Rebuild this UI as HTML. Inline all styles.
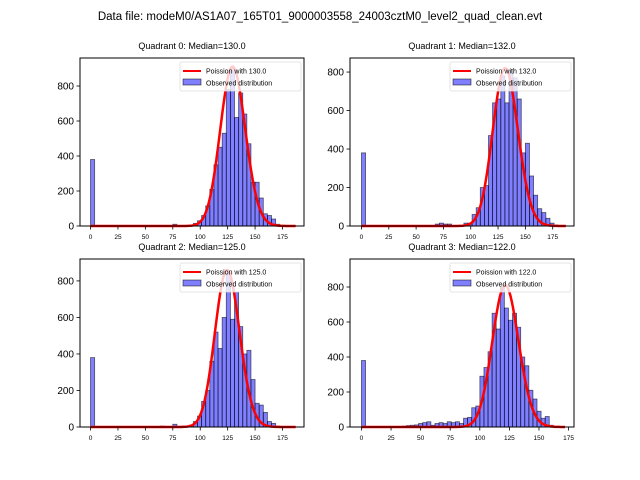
<!DOCTYPE html>
<html><head><meta charset="utf-8"><style>
body{margin:0;background:#fff}
svg{display:block;font-family:"Liberation Sans","DejaVu Sans",sans-serif}
</style></head><body>
<svg id="fig" width="640" height="480" viewBox="0 0 640 480" xmlns="http://www.w3.org/2000/svg">
<rect width="640" height="480" fill="#fff"/>
<text x="320" y="20" font-size="11.5" text-anchor="middle">Data file: modeM0/AS1A07_165T01_9000003558_24003cztM0_level2_quad_clean.evt</text>
</svg>
<script>
const medians=[130,132,125,122];
const binWidths=[3.75,3.75,3.75,3.45];
const curvePeaks=[910,820,860,810];
const curveMax=[187,187,187,172];
const yTicks=[0,200,400,600,800];
const xTicks=[[0,25,50,75,100,125,150,175],[0,25,50,75,100,125,150,175],[0,25,50,75,100,125,150,175],[0,25,50,75,100,125,150,175]];
const counts0=[380,0,0,0,0,0,0,0,0,0,0,0,0,0,0,0,0,0,0,0,10,0,0,0,5,15,30,60,115,210,350,450,530,780,900,620,760,640,470,250,250,160,70,60,40,10,3];
const counts1=[380,0,0,0,0,0,0,0,0,0,0,0,0,0,0,0,0,0,10,15,10,10,0,0,0,15,15,60,95,200,210,470,640,660,780,640,810,770,660,380,430,260,160,90,70,40,15,5];
const counts2=[380,0,0,0,0,0,0,0,0,0,0,0,0,0,0,0,0,5,0,0,15,0,5,0,10,30,60,140,200,360,520,430,600,840,590,740,550,400,420,260,130,120,80,30,20,5];
const counts3=[380,0,0,0,0,0,0,0,0,3,5,8,10,12,20,25,30,10,20,25,20,30,25,30,20,50,55,110,120,290,340,430,650,560,800,680,610,650,570,400,350,210,160,90,50,60,10,3];
const allCounts=[counts0,counts1,counts2,counts3];
const axes=[
 {x0:80,x1:304,y0:58,y1:226,xmin:-9.6,xmax:194.6,ymax:960},
 {x0:350,x1:574,y0:58,y1:226,xmin:-10.5,xmax:194.5,ymax:873},
 {x0:80,x1:304,y0:259,y1:427,xmin:-9.6,xmax:194.6,ymax:920},
 {x0:350,x1:574,y0:259,y1:427,xmin:-9.7,xmax:179.6,ymax:960}
];
const NS="http://www.w3.org/2000/svg";
const svg=document.getElementById('fig');
function mk(tag,attrs,parent){const e=document.createElementNS(NS,tag);for(const k in attrs)e.setAttribute(k,attrs[k]);(parent||svg).appendChild(e);return e;}
function lgam(n){let s=0;for(let k=2;k<=n;k++)s+=Math.log(k);return s;}
function logpmf(k,m){return k*Math.log(m)-m-lgam(k);}
axes.forEach((a,q)=>{
 const g=mk('g',{});
 
 
 const X=v=>a.x0+(v-a.xmin)/(a.xmax-a.xmin)*(a.x1-a.x0);
 const Y=v=>a.y1-v/a.ymax*(a.y1-a.y0);
 const bw=binWidths[q];
 allCounts[q].forEach((c,i)=>{
  if(c<=0)return;
  const r=mk('rect',{x:X(i*bw),y:Y(c),width:X((i+1)*bw)-X(i*bw),height:a.y1-Y(c),fill:'rgba(0,0,255,0.5)',stroke:'rgba(0,0,0,0.6)','stroke-width':0.8},g);
  
  
 });
 const m=medians[q];const lm=logpmf(Math.floor(m),m);
 let d='';
 for(let k=0;k<=curveMax[q];k++){const v=curvePeaks[q]*Math.exp(logpmf(k,m)-lm);d+=(k?'L':'M')+X(k).toFixed(2)+','+Y(v).toFixed(2);}
 const p=mk('path',{d:d,fill:'none',stroke:'#ff0000','stroke-width':2.5},g);
 
 
 const fr=mk('rect',{x:a.x0,y:a.y0,width:a.x1-a.x0,height:a.y1-a.y0,fill:'none',stroke:'#000','stroke-width':1},g);
 
 
 yTicks.forEach(t=>{
  mk('line',{x1:a.x0-3.5,x2:a.x0,y1:Y(t),y2:Y(t),stroke:'#000','stroke-width':0.8},g);
  const tx=mk('text',{x:a.x0-6,y:Y(t)+3.5,'font-size':10,'text-anchor':'end'},g);
  tx.textContent=t;
  
  
 });
 xTicks[q].forEach(t=>{
  mk('line',{x1:X(t),x2:X(t),y1:a.y1,y2:a.y1+3.5,stroke:'#000','stroke-width':0.8},g);
  const tx=mk('text',{x:X(t),y:a.y1+13,'font-size':6.5,'text-anchor':'middle'},g);
  tx.textContent=t;
  
  
 });
 const tt=mk('text',{x:(a.x0+a.x1)/2,y:a.y0-9,'font-size':9,'text-anchor':'middle'},g);
 tt.textContent='Quadrant '+q+': Median='+m.toFixed(1);
 
 
 const lg=mk('g',{},g);
 
 
 const lx=a.x1-124,ly=a.y0+4;
 mk('rect',{x:lx,y:ly,width:121,height:29,rx:2,fill:'rgba(255,255,255,0.8)',stroke:'#ddd','stroke-width':0.8},lg);
 mk('line',{x1:lx+3,x2:lx+21,y1:ly+9,y2:ly+9,stroke:'#ff0000','stroke-width':2},lg);
 const l1=mk('text',{x:lx+26,y:ly+11.5,'font-size':7},lg);
 l1.textContent='Poission with '+m.toFixed(1);
 
 
 mk('rect',{x:lx+3,y:ly+17,width:18,height:6,fill:'rgba(0,0,255,0.5)',stroke:'rgba(0,0,0,0.6)','stroke-width':0.8},lg);
 const l2=mk('text',{x:lx+26,y:ly+23.5,'font-size':7},lg);
 l2.textContent='Observed distribution';
 
 
});
</script>
</body></html>
